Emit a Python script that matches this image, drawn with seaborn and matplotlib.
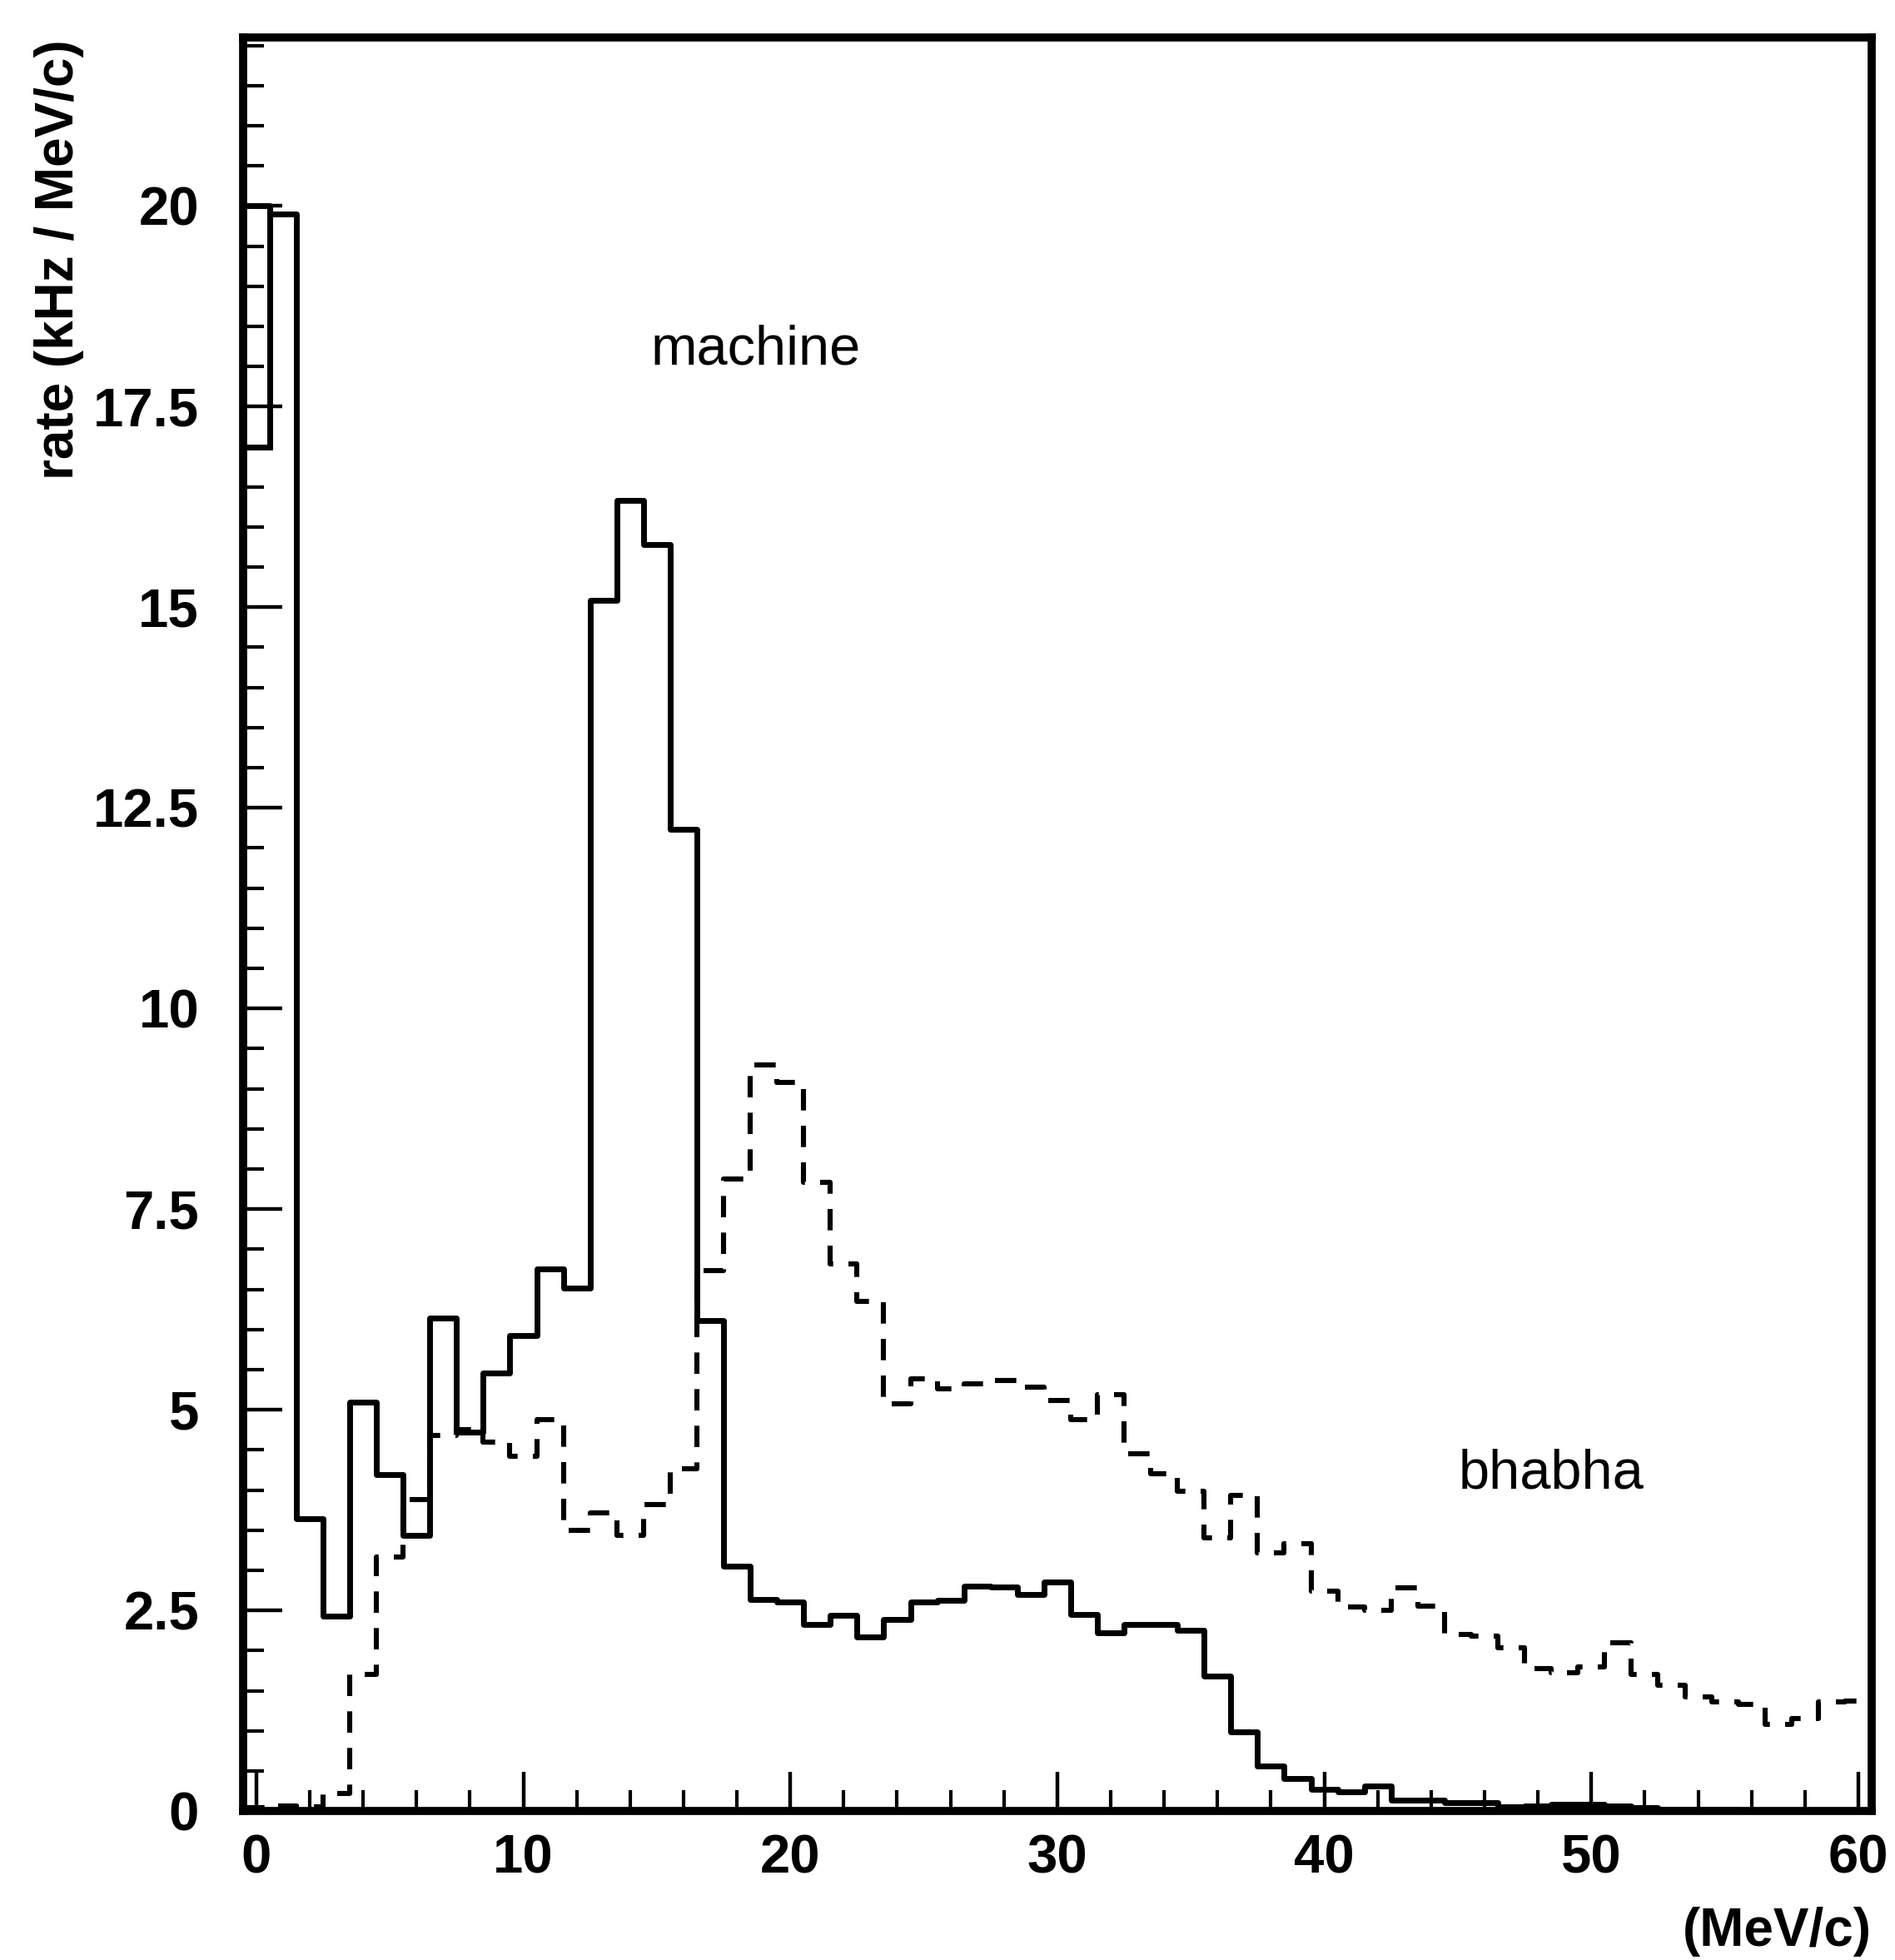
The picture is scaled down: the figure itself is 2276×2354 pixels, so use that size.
import numpy as np
import pandas as pd
import matplotlib
matplotlib.use("Agg")
import matplotlib.pyplot as plt
import seaborn as sns
from matplotlib.ticker import FixedLocator, MultipleLocator

# ---------------- data (bin centres in MeV/c, 1 MeV/c bins) ----------------
momentum = list(range(0, 61))

machine = [20.0, 19.9, 3.64, 2.43, 5.09, 4.19, 3.43, 6.14, 4.72, 5.46,
           5.93, 6.75, 6.52, 15.09, 16.33, 15.78, 12.23, 6.11, 3.05, 2.64,
           2.60, 2.33, 2.44, 2.17, 2.39, 2.60, 2.63, 2.80, 2.79, 2.70,
           2.85, 2.45, 2.22, 2.32, 2.32, 2.25, 1.68, 0.99, 0.56, 0.41,
           0.27, 0.24, 0.31, 0.14, 0.14, 0.10, 0.10, 0.05, 0.06, 0.08,
           0.08, 0.06, 0.04, 0.02, 0.02, 0.02, 0.01, 0.01, 0.01, 0.01,
           0.01]

bhabha = [0.04, 0.06, 0.05, 0.22, 1.70, 3.17, 3.88, 4.68, 4.75, 4.60,
          4.42, 4.88, 3.50, 3.72, 3.43, 3.82, 4.26, 6.73, 7.88, 9.30,
          9.08, 7.83, 6.82, 6.35, 5.07, 5.39, 5.26, 5.32, 5.36, 5.28,
          5.12, 4.88, 5.19, 4.45, 4.20, 3.98, 3.40, 3.93, 3.22, 3.33,
          2.74, 2.54, 2.50, 2.78, 2.55, 2.20, 2.18, 2.03, 1.78, 1.72,
          1.80, 2.10, 1.70, 1.57, 1.42, 1.36, 1.33, 1.08, 1.15, 1.36,
          1.37]

machine_bin0_inner = 17.0   # inner level drawn inside the first machine bin

x_ticks = [0, 10, 20, 30, 40, 50, 60]
x_tick_labels = ["0", "10", "20", "30", "40", "50", "60"]
y_ticks = [0, 2.5, 5, 7.5, 10, 12.5, 15, 17.5, 20]
y_tick_labels = ["0", "2.5", "5", "7.5", "10", "12.5", "15", "17.5", "20"]

annotations = ["machine", "bhabha"]
annot_x = [18.7, 48.5]
annot_y = [18.2, 4.2]

# ---------------- style ----------------
sns.set_style("ticks")
plt.rcParams["font.family"] = ["Liberation Sans", "DejaVu Sans"]
plt.rcParams["text.color"] = "black"
plt.rcParams["axes.labelcolor"] = "black"
plt.rcParams["xtick.color"] = "black"
plt.rcParams["ytick.color"] = "black"
plt.rcParams["axes.edgecolor"] = "black"

fig = plt.figure(figsize=(22.76, 23.54), dpi=100)
ax = fig.add_axes([0.1282, 0.0760, 0.8595, 0.9049])

edges = [float(e) for e in np.arange(-0.5, 61.0, 1.0)]
df = pd.DataFrame({"p": momentum, "machine": machine, "bhabha": bhabha})

sns.histplot(data=df, x="p", weights="machine", bins=edges, element="step",
             fill=False, color="black", linewidth=5.0, ax=ax)
sns.histplot(data=df, x="p", weights="bhabha", bins=edges, element="step",
             fill=False, color="black", linewidth=4.4,
             linestyle=(0, (4.2, 3.0)), ax=ax)
ax.stairs([machine_bin0_inner], edges[:2], baseline=machine[0],
          color="black", linewidth=5.0)

ax.set_xlim(-0.5, 60.5)
ax.set_ylim(0, 22.1)

ax.xaxis.set_major_locator(FixedLocator(x_ticks))
ax.xaxis.set_minor_locator(MultipleLocator(2))
ax.yaxis.set_major_locator(FixedLocator(y_ticks))
ax.yaxis.set_minor_locator(MultipleLocator(0.5))
ax.set_xticklabels(x_tick_labels, fontsize=47, fontweight="bold",
                   color="black")
ax.set_yticklabels(y_tick_labels, fontsize=47, fontweight="bold",
                   color="black")

ax.tick_params(axis="both", which="major", direction="in", length=34,
               width=3.2, color="black")
ax.tick_params(axis="both", which="minor", direction="in", length=18,
               width=3.0, color="black")
ax.tick_params(axis="y", which="major", pad=38)
ax.tick_params(axis="x", which="major", pad=20)

for side in ["left", "right", "top", "bottom"]:
    ax.spines[side].set_visible(True)
    ax.spines[side].set_linewidth(7.0)
    ax.spines[side].set_color("black")

ax.set_xlabel("(MeV/c)", fontsize=46, fontweight="bold", ha="right",
              va="center", color="black")
ax.xaxis.set_label_coords(1.0, -0.068)
ax.set_ylabel("rate (kHz / MeV/c)", fontsize=46, fontweight="bold",
              va="center", ha="center", color="black")
ax.yaxis.set_label_coords(-0.113, 0.875)

for txt, tx, ty in zip(annotations, annot_x, annot_y):
    ax.text(tx, ty, txt, fontsize=48, ha="center", va="center", color="black")

fig.savefig("out.png", dpi=100, facecolor="white")
